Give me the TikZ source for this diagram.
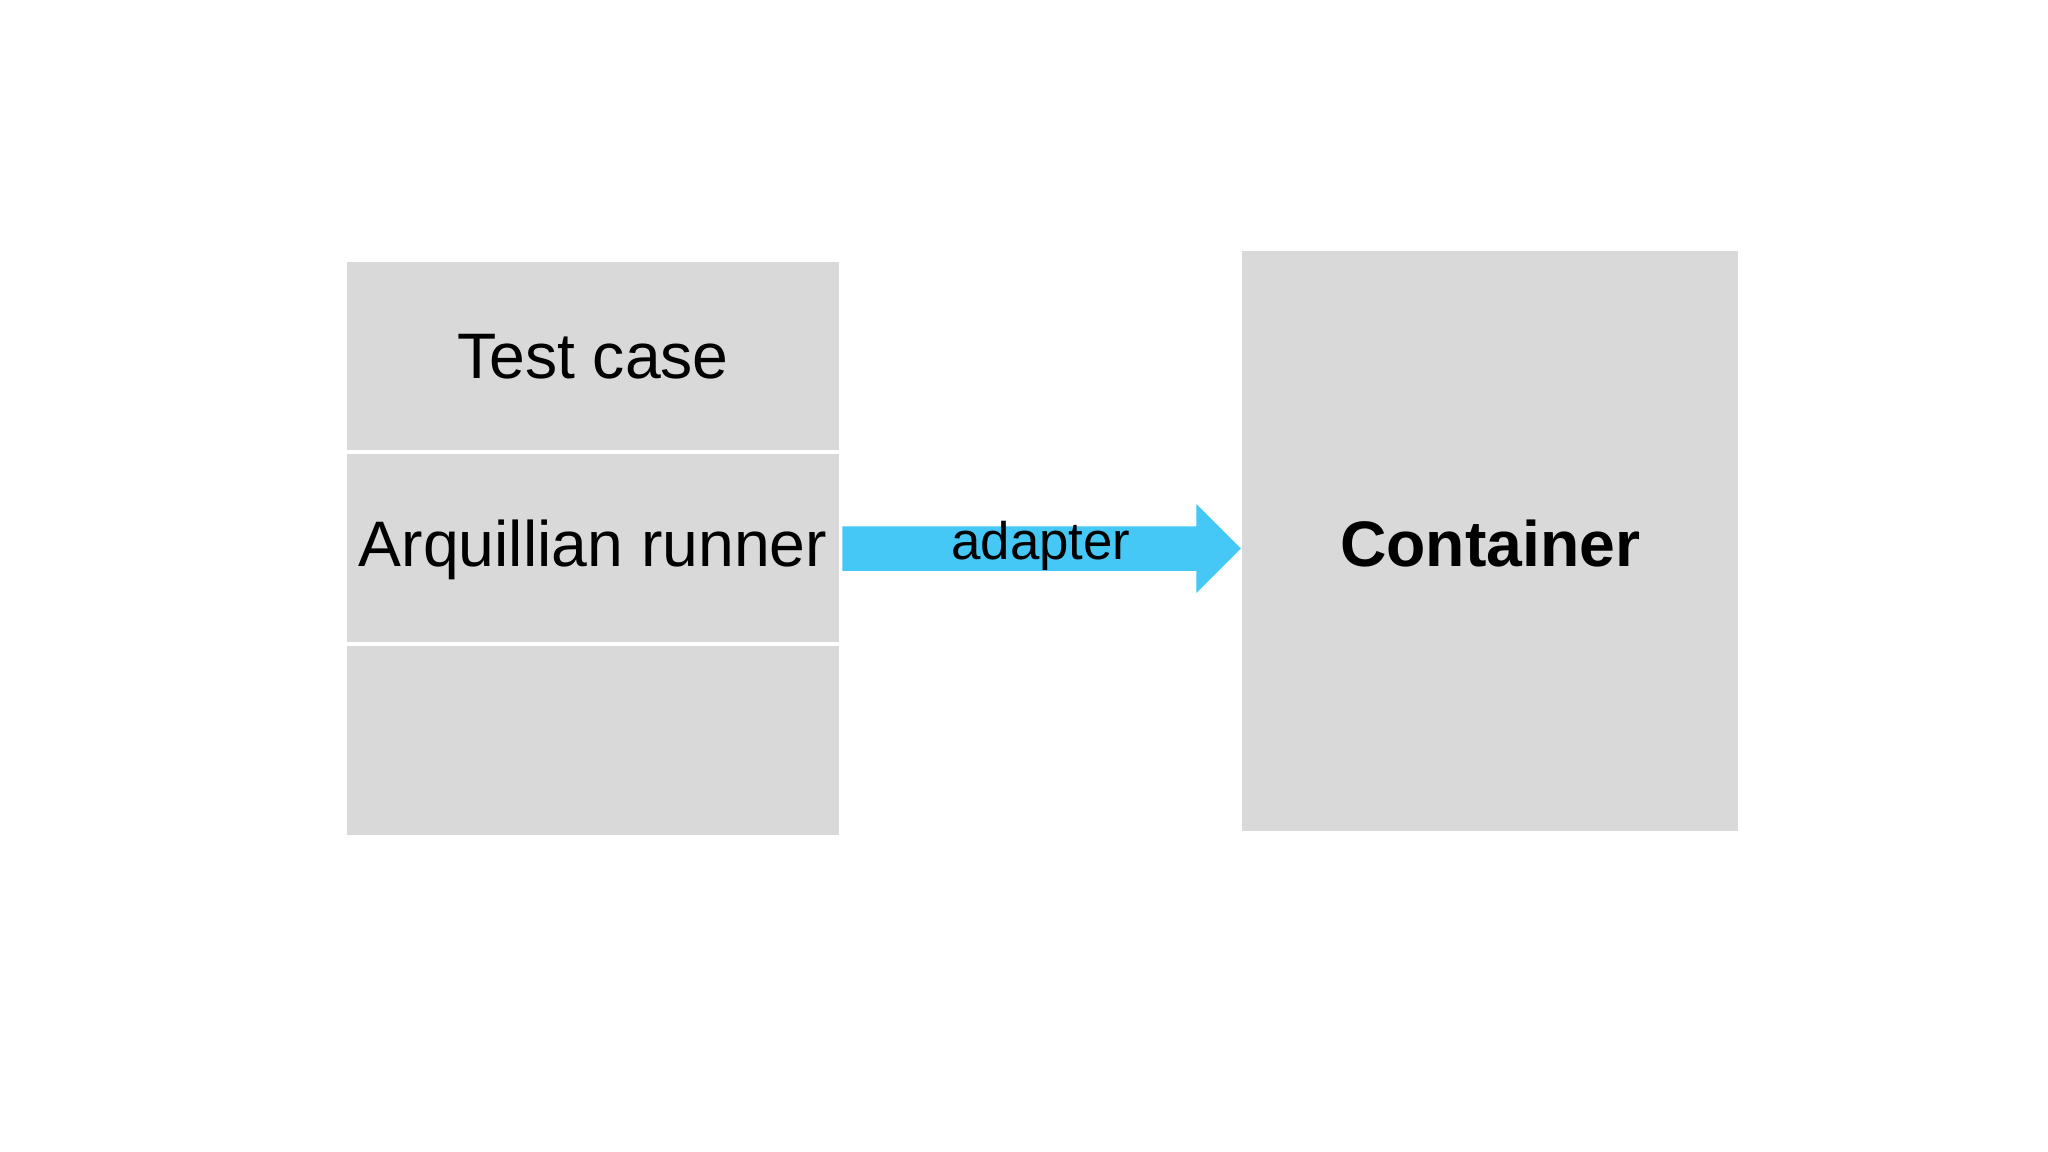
\documentclass[tikz,border=0pt]{standalone}
\usepackage{fontspec}
\setmainfont{Liberation Sans}
\usetikzlibrary{shapes.arrows}
\definecolor{boxgray}{HTML}{D9D9D9}
\definecolor{arrowblue}{HTML}{45C8F5}
\begin{document}
\begin{tikzpicture}[x=0.01cm,y=-0.01cm,
  cell/.style={fill=boxgray,draw=white,line width=0.8pt},
  lbl/.style={font=\fontsize{14}{16}\selectfont}]
\useasboundingbox (0,0) rectangle (1568,882);
\fill[white] (0,0) rectangle (1568,882);
\draw[cell] (264,199) rectangle (644,346);
\draw[cell] (264,346) rectangle (644,493);
\draw[cell] (264,493) rectangle (644,641);
\node[lbl] (tc) at (454,273) {Test case};
\node[lbl] (ar) at (454,421) {Arquillian runner};
\fill[boxgray] (951,192) rectangle (1331,636);
\node[lbl,font=\fontsize{14}{16}\selectfont\bfseries] (ct) at (1141,416) {Container};
\coordinate (a0) at (645,420);
\coordinate (a1) at (950,420);
\fill[arrowblue] (645,403) -- (916,403) -- (916,386) -- (950,420) -- (916,454) -- (916,437) -- (645,437) -- cycle;
\node[font=\fontsize{11.5}{13}\selectfont] (ad) at (797,418) {adapter};
\end{tikzpicture}
\end{document}
